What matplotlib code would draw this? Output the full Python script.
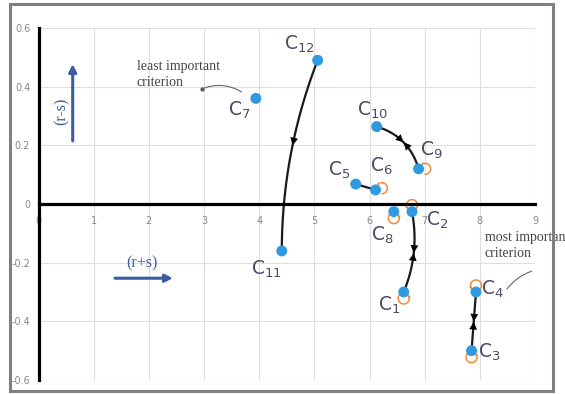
import numpy as np
import matplotlib
matplotlib.use("Agg")
import matplotlib.pyplot as plt
from matplotlib.patches import Arc, Rectangle

# criteria positions: (r+s, r-s)
names = ["C1", "C2", "C3", "C4", "C5", "C6", "C7", "C8", "C9", "C10", "C11", "C12"]
r_plus_s = [6.62, 6.77, 7.85, 7.93, 5.75, 6.11, 3.94, 6.44, 6.89, 6.13, 4.41, 5.06]
r_minus_s = [-0.30, -0.026, -0.50, -0.30, 0.068, 0.048, 0.36, -0.026, 0.12, 0.264, -0.16, 0.49]

# label offsets in pixels (dx, dy)
label_off = {"C1": (-14, -13), "C2": (25, -9), "C3": (18, -2), "C4": (16, 3),
             "C5": (-17, 14), "C6": (6, 24), "C7": (-17, -12), "C8": (-11, -24),
             "C9": (13, 18), "C10": (-4, 16), "C11": (-15, -18), "C12": (-18, 16)}

# links: (from, to, bend px, arrow type)
links = [("C12", "C11", -9, "single"), ("C10", "C9", 8, "double"),
         ("C2", "C1", 6, "double"), ("C4", "C3", 0, "double"),
         ("C5", "C6", 0, "none")]

# self loops: node, direction (deg)
loops = [("C6", 15), ("C9", 0), ("C8", -90), ("C2", 90), ("C1", -90),
         ("C4", 90), ("C3", -90)]

xticks = list(range(0, 10))
yticks = [-0.6, -0.4, -0.2, 0, 0.2, 0.4, 0.6]
ytick_labels = ["-0.6", "-0.4", "-0.2", "0", "0.2", "0.4", "0.6"]

pos = {n: (x, y) for n, x, y in zip(names, r_plus_s, r_minus_s)}

fig = plt.figure(figsize=(5.65, 3.94), dpi=100)
fig.patch.set_facecolor("white")
ax = fig.add_axes([38.5 / 565, 14 / 394, 496.5 / 565, 352 / 394])
ax.set_xlim(0, 9)
ax.set_ylim(-0.6, 0.6)

# outer frame
fig.patches.append(Rectangle((10 / 565, 3 / 394), 543 / 565, 387 / 394, transform=fig.transFigure,
                             fill=False, edgecolor="#808080", lw=2.2))

ax.set_xticks(xticks)
ax.set_yticks(yticks)
ax.set_yticklabels(ytick_labels)
ax.grid(True, color="#dedede", lw=0.8)
ax.set_axisbelow(True)
ax.spines["top"].set_visible(False)
ax.spines["right"].set_visible(False)
ax.spines["bottom"].set_position(("data", 0))
ax.spines["bottom"].set_linewidth(2.3)
ax.spines["left"].set_linewidth(2.3)
ax.tick_params(length=0, labelsize=7, labelcolor="#888888")
ax.tick_params(axis="x", pad=9)
ax.tick_params(axis="y", pad=6)

px = 496.5 / 9       # pixels per x unit
py = 352 / 1.2       # pixels per y unit


def curve(a, b, bend, n=80):
    p0 = ax.transData.transform(pos[a])
    p2 = ax.transData.transform(pos[b])
    d = p2 - p0
    L = np.hypot(*d)
    perp = np.array([-d[1], d[0]]) / L
    c = (p0 + p2) / 2 + perp * bend * 2
    t = np.linspace(0, 1, n)[:, None]
    pts = (1 - t) ** 2 * p0 + 2 * (1 - t) * t * c + t ** 2 * p2
    return ax.transData.inverted().transform(pts)


def head(pts, i, j, color="black", size=14):
    ax.annotate("", xy=pts[j], xytext=pts[i],
                arrowprops=dict(arrowstyle="-|>", color=color, lw=0,
                                mutation_scale=size, shrinkA=0, shrinkB=0))


for a, b, bend, kind in links:
    pts = curve(a, b, bend)
    ax.plot(pts[:, 0], pts[:, 1], color="#1a1a1a", lw=1.6, zorder=2)
    n = len(pts)
    if kind == "single":
        head(pts, int(n * 0.38), int(n * 0.46))
    elif kind == "double":
        m = n // 2
        head(pts, m - 6, m)
        head(pts, m + 6, m)

orange = "#f08a3c"
for node, ang in loops:
    x, y = pos[node]
    r = 5.5
    off = 6.5
    cx = x + off * np.cos(np.radians(ang)) / px
    cy = y + off * np.sin(np.radians(ang)) / py
    t1, t2 = ang + 180 + 55, ang + 180 + 315
    ax.add_patch(Arc((cx, cy), 2 * r / px, 2 * r / py, theta1=t1,
                     theta2=t2, color=orange, lw=1.1, zorder=2))
    # tiny head at the end of the loop
    ta = np.radians([t2 - 25, t2])
    hx = cx + r * np.cos(ta) / px
    hy = cy + r * np.sin(ta) / py
    ax.annotate("", xy=(hx[1], hy[1]), xytext=(hx[0], hy[0]),
                arrowprops=dict(arrowstyle="-|>", color=orange, lw=0,
                                mutation_scale=6, shrinkA=0, shrinkB=0))

ax.scatter(r_plus_s, r_minus_s, s=62, color="#2f9ae0", zorder=4, edgecolors="none")

for n in names:
    sub = n[1:]
    ax.annotate(r"$\mathregular{C_{" + sub + "}}$", xy=pos[n], xytext=label_off[n],
                textcoords="offset pixels", ha="center", va="center",
                fontsize=13.5, color="#4c4c68", zorder=5)

serif = ["Liberation Serif", "DejaVu Serif"]
ax.text(1.78, 0.492, "least important\ncriterion", fontsize=10, family=serif,
        color="#444444", va="top", ha="left", linespacing=1.35)
ax.annotate("", xy=(3.68, 0.382), xytext=(2.96, 0.392),
            arrowprops=dict(arrowstyle="-", color="#666666", lw=0.8,
                            connectionstyle="arc3,rad=-0.25", shrinkA=0, shrinkB=0))
ax.plot([2.96], [0.392], "o", color="#555555", ms=2)

ax.text(8.09, -0.092, "most important\ncriterion", fontsize=10, family=serif,
        color="#444444", va="top", ha="left", linespacing=1.35, clip_on=False)
ax.annotate("", xy=(8.94, -0.229), xytext=(8.49, -0.29),
            arrowprops=dict(arrowstyle="-", color="#666666", lw=0.8,
                            connectionstyle="arc3,rad=-0.15", shrinkA=0, shrinkB=0),
            annotation_clip=False)

blue = "#3b5c9e"
ax.text(0.42, 0.317, "(r-s)", rotation=90, fontsize=11.5, family=serif, color=blue,
        ha="center", va="center")
ax.annotate("", xy=(0.62, 0.477), xytext=(0.62, 0.215),
            arrowprops=dict(arrowstyle="-|>", color=blue, lw=2.2, mutation_scale=11,
                            shrinkA=0, shrinkB=0))
ax.text(1.87, -0.203, "(r+s)", fontsize=11.5, family=serif, color=blue,
        ha="center", va="center")
ax.annotate("", xy=(2.437, -0.253), xytext=(1.386, -0.253),
            arrowprops=dict(arrowstyle="-|>", color=blue, lw=2.2, mutation_scale=11,
                            shrinkA=0, shrinkB=0))

fig.savefig("out.png", dpi=100)
